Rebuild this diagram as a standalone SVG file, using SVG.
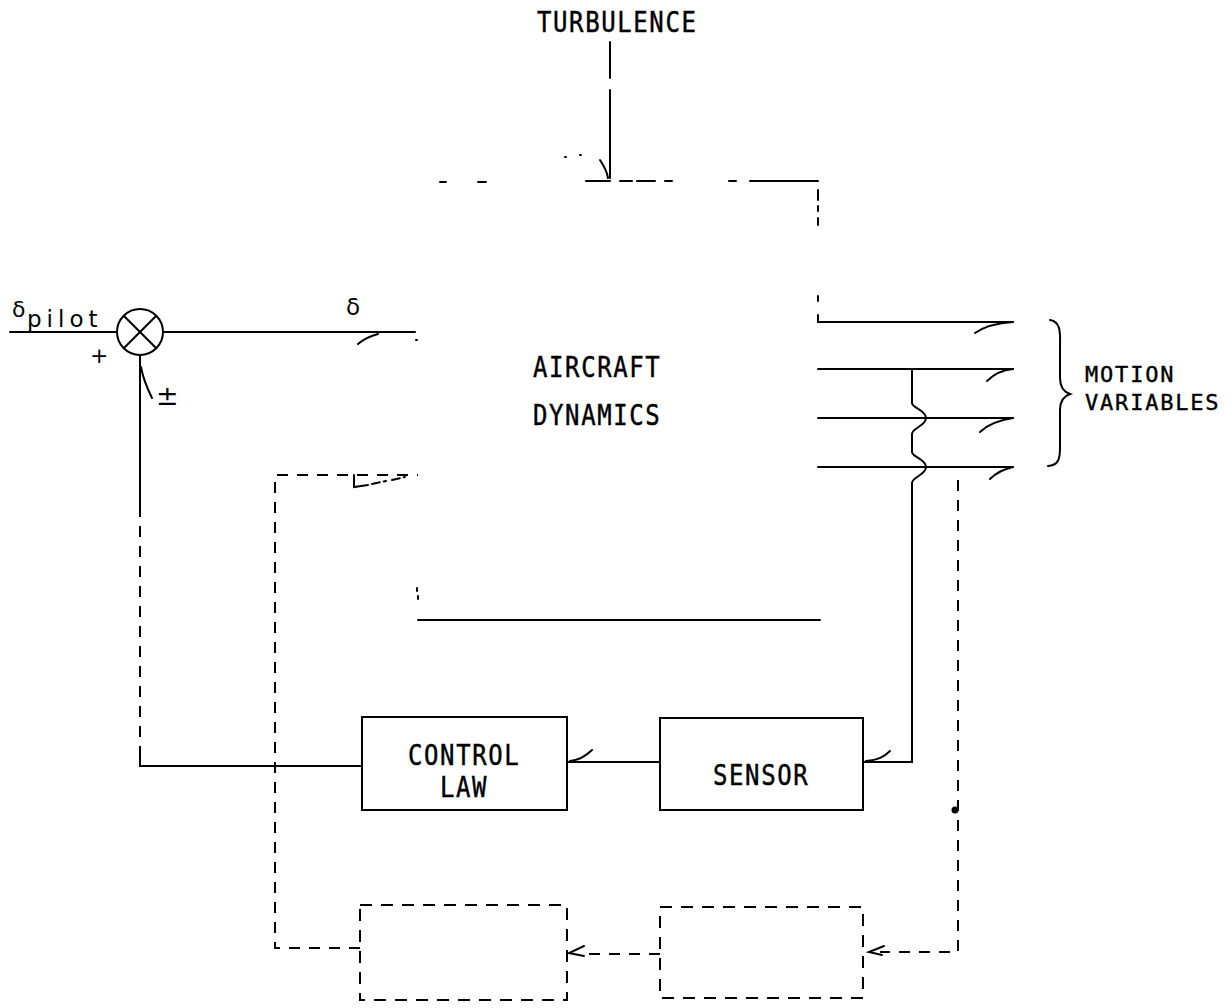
<svg xmlns="http://www.w3.org/2000/svg" width="1232" height="1008" viewBox="0 0 1232 1008">
<style>
.ln{fill:none;stroke:#000;stroke-width:2;stroke-linecap:round}
.ds{fill:none;stroke:#000;stroke-width:2;stroke-dasharray:11 9}
.bx{fill:none;stroke:#000;stroke-width:2}
.dbx{fill:none;stroke:#000;stroke-width:2;stroke-dasharray:12 9}
.t{font-family:"DejaVu Sans Mono","Liberation Mono",monospace;font-size:24px;letter-spacing:1.6px;fill:#000;stroke:#000;stroke-width:0.4}
.m{font-family:"DejaVu Sans Mono","Liberation Mono",monospace;font-size:22px;letter-spacing:1.8px;fill:#000;stroke:#000;stroke-width:0.4}
.s{font-family:"DejaVu Sans","Liberation Sans",sans-serif;fill:#000}
</style>
<rect width="1232" height="1008" fill="#fff"/>

<g id="turbulence">
<text class="t" transform="translate(537,32) scale(1,1.15)">TURBULENCE</text>
</g>

<g id="aircraft-dynamics">
<path class="ln" d="M440,182 H446 M478,182 H486 M586,181 H610 M620,181 H632 M637,181 H655 M665,181 H672 M729,181 H736 M750,181 H818"/>
<path class="ln" d="M818,190 V200 M818,206 V211 M818,218 V225 M818,296 V301 M818,315 V322"/>
<path class="ln" d="M418,620 H820 M417,588 V591 M418,596 V599"/>
<text class="t" transform="translate(533,377) scale(1,1.15)">AIRCRAFT</text>
<text class="t" transform="translate(533,425) scale(1,1.15)">DYNAMICS</text>
</g>

<g id="summing-junction">
<circle class="bx" cx="140" cy="332" r="23"/>
<path class="ln" d="M124,316 L156,348 M156,316 L124,348"/>
<text class="s" x="90" y="363" font-size="22">+</text>
<text class="s" x="156" y="405" font-size="27">±</text>
</g>

<g id="pilot-input">
<text class="s" x="12" y="317" font-size="22">δ</text>
<text class="s" x="27" y="327" font-size="23" letter-spacing="5">pilot</text>
</g>

<g id="control-law">
<rect class="bx" x="362" y="717" width="205" height="93"/>
<text class="t" transform="translate(408,765) scale(1,1.15)">CONTROL</text>
<text class="t" transform="translate(440,797) scale(1,1.15)">LAW</text>
</g>

<g id="sensor">
<rect class="bx" x="660" y="718" width="203" height="92"/>
<text class="t" transform="translate(713,785) scale(1,1.15)">SENSOR</text>
</g>

<g id="filter-1">
<rect class="dbx" x="360" y="905" width="207" height="95"/>
</g>

<g id="filter-2">
<rect class="dbx" x="660" y="907" width="203" height="91"/>
</g>

<g id="motion-variables">
<path class="ln" d="M1050,320 C1062,322 1060,335 1060,350 V378 C1060,388 1064,392 1070,394 C1064,396 1060,400 1060,410 V448 C1060,460 1058,465 1048,466"/>
<text class="m" x="1085" y="382">MOTION</text>
<text class="m" x="1085" y="410">VARIABLES</text>
</g>

<g id="connectors">
<path class="ln" d="M610,42 V78 M610,90 V178"/>
<path class="ln" d="M600,160 C604,166 607,171 608,178"/>
<path class="ln" d="M565,157 h1 M580,155 h1"/>
<path class="ln" d="M10,332 H117"/>
<path class="ln" d="M163,332 H415"/>
<path class="ln" d="M358,344 C364,339 370,336 378,334"/>
<text class="s" x="346" y="315" font-size="23">δ</text>
<path class="ln" d="M416,340 h1"/>
<path class="ln" d="M818,322 H1013 M818,369 H1013 M818,418 H1013 M818,467 H1013"/>
<path class="ln" d="M975,333 C985,326 998,323 1013,322"/>
<path class="ln" d="M987,381 C994,374 1002,370 1013,369"/>
<path class="ln" d="M980,432 C988,424 1000,420 1013,418"/>
<path class="ln" d="M990,479 C996,473 1004,469 1013,467"/>
<path class="ln" d="M912,369 V403 C912,408 926,410 926,418 C926,426 912,428 912,434 V452 C912,457 926,459 926,467 C926,475 912,477 912,483 V762 H863"/>
<path class="ln" d="M890,751 C884,757 878,760 866,761"/>
<path class="ln" d="M660,762 H567"/>
<path class="ln" d="M592,750 C586,756 580,760 570,761"/>
<path class="ln" d="M362,766 H140 V757"/>
<path class="ds" d="M140,757 V513"/>
<path class="ln" d="M140,513 V355"/>
<path class="ln" d="M141,367 C143,378 148,390 152,398"/>
<path class="ds" d="M958,480 V952 H880"/>
<path class="ln" d="M884,946 L869,952 L882,955"/>
<path class="ds" d="M660,954 H584"/>
<path class="ln" d="M584,946 L569,953 L584,956"/>
<path class="ds" d="M360,948 H275 V475 H418"/>
<path class="ln" d="M354,475 V487 L368,485"/>
<path class="ln" d="M372,484 L386,481 M392,480 L405,477" stroke-dasharray="8 4"/>
<circle cx="955" cy="810" r="3.5" fill="#000"/>
</g>
</svg>
